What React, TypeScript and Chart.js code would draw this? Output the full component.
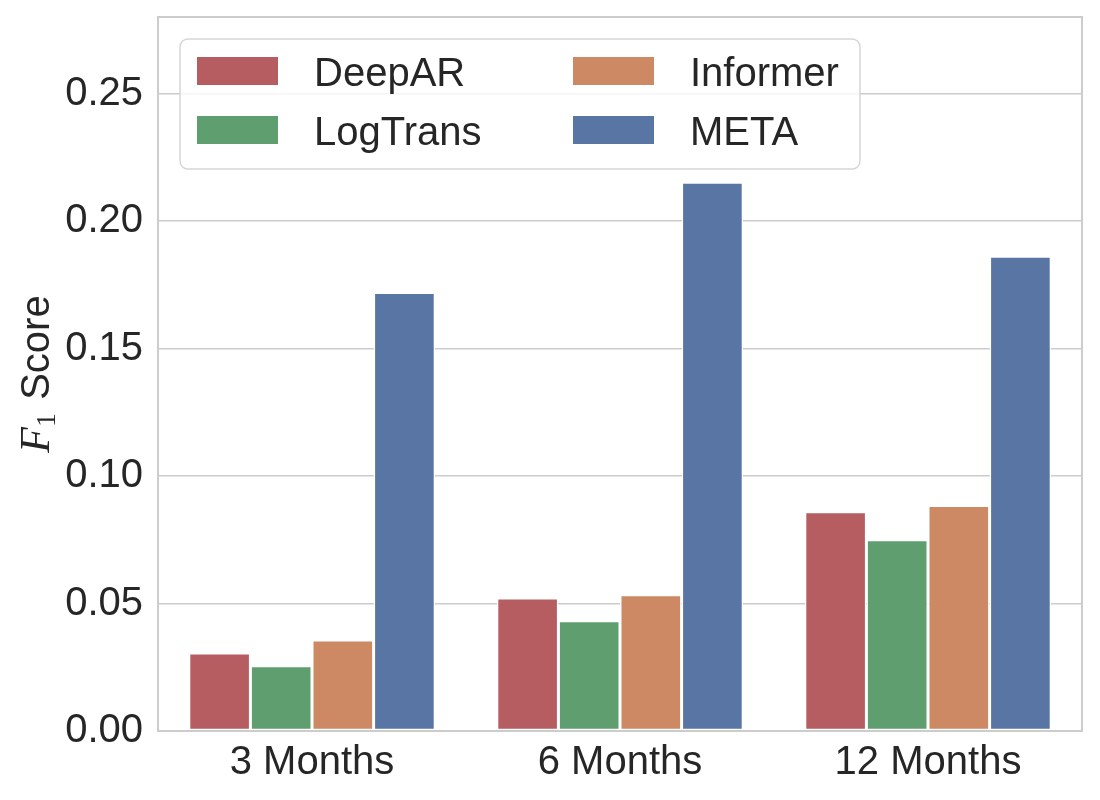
import { useEffect, useRef } from "react";
import { Chart, registerables, Plugin } from "chart.js";

Chart.register(...registerables);

// values
const horizons = ["3 Months", "6 Months", "12 Months"];
const modelNames = ["DeepAR", "LogTrans", "Informer", "META"];
const deepAR = [0.0306, 0.0522, 0.086];
const logTrans = [0.0256, 0.0432, 0.075];
const informer = [0.0357, 0.0534, 0.0884];
const meta = [0.172, 0.2152, 0.1862];
const modelColors = ["#b55d60", "#5f9e6e", "#cc8963", "#5975a4"];
const yTicks = [0, 0.05, 0.1, 0.15, 0.2, 0.25];

const TEXT = "#262626";
const SANS = "'Liberation Sans', Arial, sans-serif";
const SERIF = "'Liberation Serif', 'DejaVu Serif', serif";

// plot frame, drawn over the bars like matplotlib spines
const framePlugin: Plugin = {
  id: "frame",
  afterDatasetsDraw(chart) {
    const { ctx, chartArea: a } = chart;
    ctx.save();
    ctx.strokeStyle = "#cccccc";
    ctx.lineWidth = 2;
    ctx.strokeRect(a.left, a.top, a.right - a.left, a.bottom - a.top);
    ctx.restore();
  },
};

// legend inside the axes, two columns (filled down first), built from the datasets
const legendPlugin: Plugin = {
  id: "insideLegend",
  afterDraw(chart) {
    const { ctx, chartArea: a } = chart;
    const x0 = a.left + 22;
    const y0 = a.top + 22;
    const w = 680;
    const h = 130;
    ctx.save();
    ctx.beginPath();
    ctx.roundRect(x0, y0, w, h, 8);
    ctx.fillStyle = "rgba(255,255,255,0.8)";
    ctx.fill();
    ctx.strokeStyle = "#d6d6d6";
    ctx.lineWidth = 1.5;
    ctx.stroke();

    ctx.font = `40px ${SANS}`;
    ctx.textBaseline = "alphabetic";
    ctx.textAlign = "left";
    chart.data.datasets.forEach((ds, i) => {
      const c = Math.floor(i / 2);
      const r = i % 2;
      const sx = x0 + 17 + c * 376;
      const cy = y0 + 32 + r * 59;
      ctx.fillStyle = ds.backgroundColor as string;
      ctx.fillRect(sx, cy - 14, 81, 28);
      ctx.fillStyle = TEXT;
      ctx.fillText(ds.label as string, sx + 117, cy + 15);
    });
    ctx.restore();
  },
};

// y title "F1 Score" with a math-style italic F
const yTitlePlugin: Plugin = {
  id: "yTitle",
  afterDraw(chart) {
    const { ctx, chartArea: a } = chart;
    ctx.save();
    ctx.fillStyle = TEXT;
    ctx.textBaseline = "alphabetic";
    ctx.textAlign = "left";
    const fFont = `italic 42px ${SERIF}`;
    const subFont = `28px ${SERIF}`;
    const scoreFont = `40px ${SANS}`;
    ctx.font = fFont;
    const wF = ctx.measureText("F").width;
    ctx.font = subFont;
    const wSub = ctx.measureText("1").width;
    ctx.font = scoreFont;
    const wScore = ctx.measureText(" Score").width;
    const total = wF + wSub + 2 + wScore;
    ctx.translate(49, (a.top + a.bottom) / 2);
    ctx.rotate(-Math.PI / 2);
    let x = -total / 2;
    ctx.font = fFont;
    ctx.fillText("F", x, 0);
    x += wF;
    ctx.font = subFont;
    ctx.fillText("1", x, 6);
    x += wSub + 2;
    ctx.font = scoreFont;
    ctx.fillText(" Score", x, 0);
    ctx.restore();
  },
};

export default function App() {
  const canvasRef = useRef<HTMLCanvasElement | null>(null);

  useEffect(() => {
    document.body.style.margin = "0";
    const canvas = canvasRef.current;
    if (!canvas) return;

    const series = [deepAR, logTrans, informer, meta];
    const chart = new Chart(canvas, {
      type: "bar",
      data: {
        labels: horizons,
        datasets: modelNames.map((name, i) => ({
          label: name,
          data: series[i],
          backgroundColor: modelColors[i],
          borderColor: "#ffffff",
          borderWidth: 1.5,
          borderSkipped: false,
          categoryPercentage: 0.8,
          barPercentage: 1.0,
        })),
      },
      options: {
        responsive: false,
        animation: false,
        devicePixelRatio: 1,
        layout: { padding: { top: 17, right: 18, left: 0, bottom: 0 } },
        plugins: {
          legend: { display: false },
          tooltip: { enabled: false },
        },
        scales: {
          x: {
            grid: { display: false },
            border: { display: false },
            ticks: {
              color: TEXT,
              font: { family: SANS, size: 40 },
              padding: 0,
            },
            afterFit(scale) {
              scale.height = 69;
              scale.paddingLeft = 0;
              scale.paddingRight = 0;
            },
          },
          y: {
            min: 0,
            max: 0.28,
            grid: { color: "#cccccc", lineWidth: 1.6, drawTicks: false },
            border: { display: false },
            afterBuildTicks(scale) {
              scale.ticks = yTicks.map((v) => ({ value: v }));
            },
            ticks: {
              color: TEXT,
              font: { family: SANS, size: 40 },
              padding: 15,
              callback: (v) => Number(v).toFixed(2),
            },
            afterFit(scale) {
              scale.width = 158;
              scale.paddingTop = 0;
              scale.paddingBottom = 0;
            },
          },
        },
      },
      plugins: [framePlugin, legendPlugin, yTitlePlugin],
    });

    return () => {
      chart.destroy();
    };
  }, []);

  return (
    <div style={{ width: 1100, height: 800, background: "#fff" }}>
      <canvas ref={canvasRef} width={1100} height={800} />
    </div>
  );
}
